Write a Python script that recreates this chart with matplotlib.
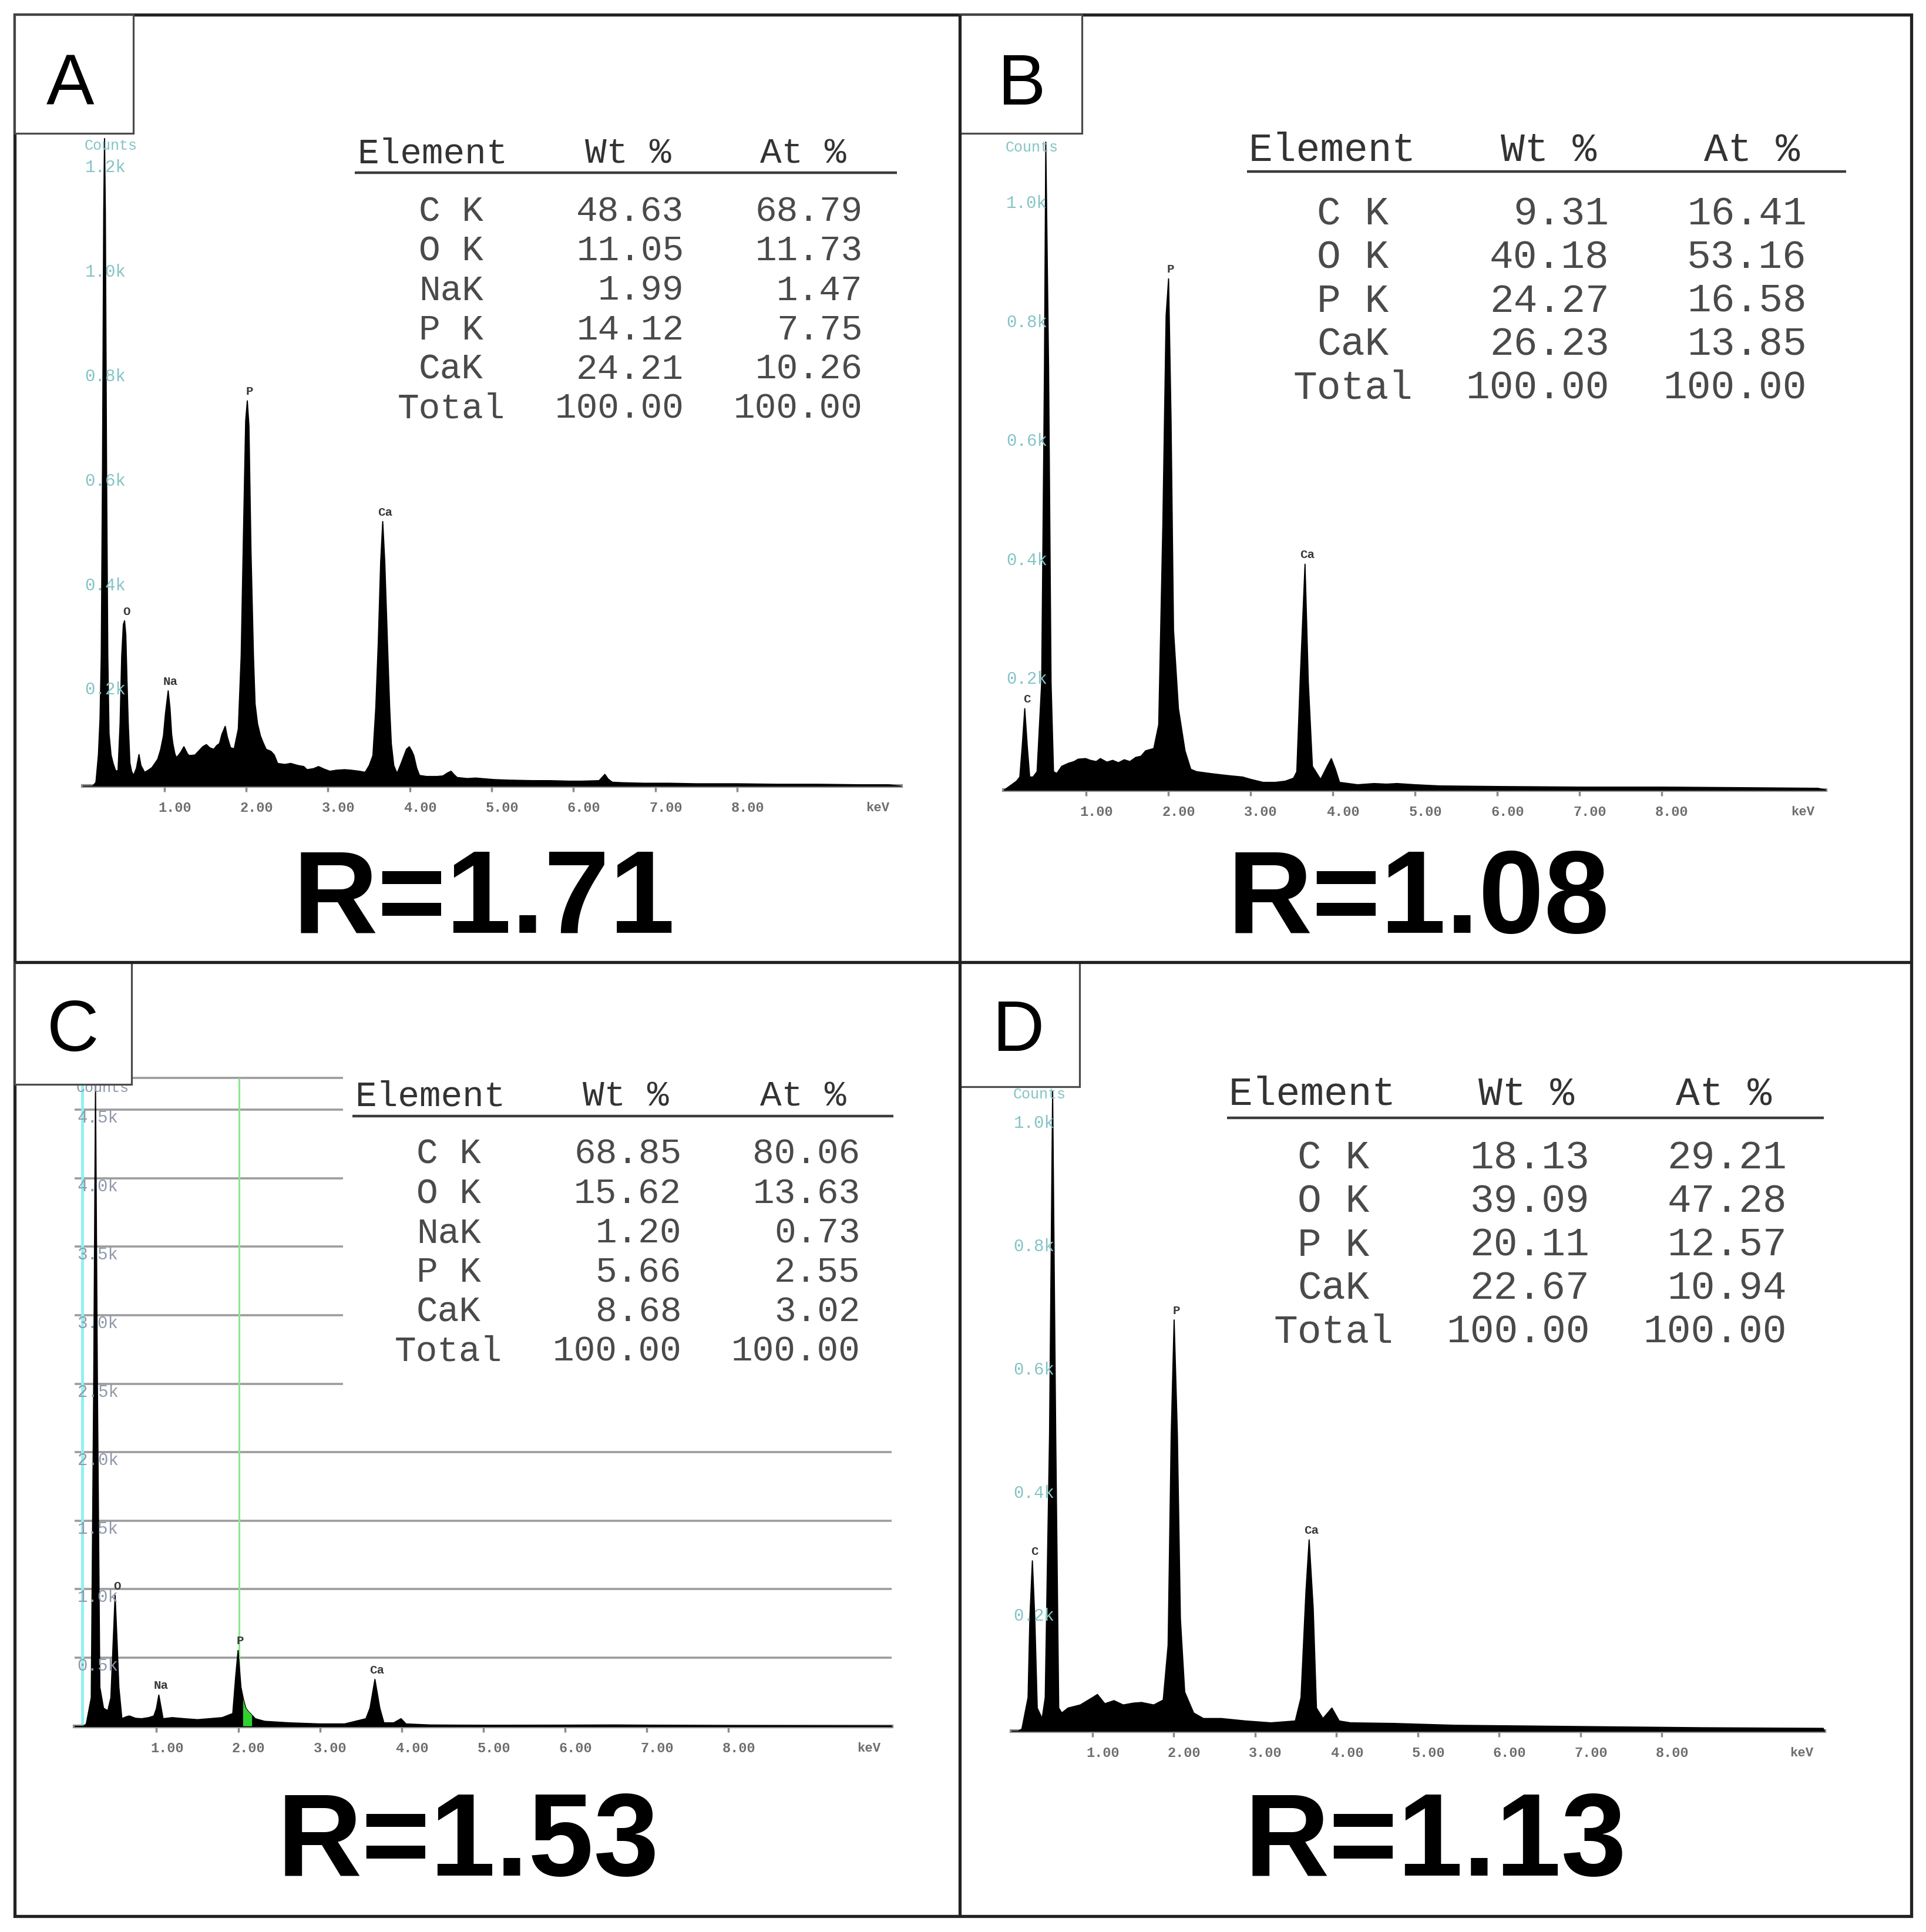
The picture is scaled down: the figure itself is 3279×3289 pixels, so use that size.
import matplotlib
matplotlib.use('Agg')
import matplotlib.pyplot as plt
from matplotlib.patches import Rectangle

# layout is measured on the reduced reference (1563 x 1568) and scaled up
W, H = 1563, 1568
MONO = ['Liberation Mono', 'DejaVu Sans Mono']
SANS = ['Liberation Sans', 'DejaVu Sans']

# ---------------- spectrum A ----------------
kev_a = [0.00, 0.12, 0.16, 0.19, 0.21, 0.225, 0.24, 0.255, 0.265, 0.275, 0.29, 0.305, 0.32, 0.345,
         0.37, 0.40, 0.43, 0.455, 0.475, 0.495, 0.51, 0.525, 0.54, 0.555, 0.575, 0.595, 0.62, 0.655,
         0.686, 0.71, 0.755, 0.79, 0.845, 0.915, 0.95, 0.985, 1.01, 1.043, 1.065, 1.085, 1.10, 1.125,
         1.145, 1.195, 1.235, 1.28, 1.30, 1.37, 1.43, 1.465, 1.51, 1.55, 1.60, 1.635, 1.67, 1.70,
         1.74, 1.765, 1.805, 1.85, 1.90, 1.935, 1.965, 1.99, 2.01, 2.03, 2.055, 2.085, 2.105, 2.135,
         2.17, 2.20, 2.24, 2.30, 2.34, 2.38, 2.47, 2.54, 2.63, 2.70, 2.74, 2.82, 2.88, 2.95, 3.02,
         3.10, 3.20, 3.28, 3.38, 3.45, 3.50, 3.545, 3.58, 3.61, 3.64, 3.665, 3.69, 3.725, 3.75, 3.77,
         3.80, 3.84, 3.88, 3.955, 3.99, 4.02, 4.045, 4.08, 4.115, 4.20, 4.33, 4.40, 4.46, 4.50, 4.54,
         4.575, 4.70, 4.80, 4.95, 5.03, 5.20, 5.49, 5.70, 5.95, 6.10, 6.31, 6.38, 6.42, 6.47, 6.60,
         6.86, 7.17, 7.50, 8.00, 8.50, 9.00, 9.50, 9.85, 10.0]
cts_a = [0, 0, 8, 60, 130, 250, 600, 1100, 1240, 1100, 600, 250, 101, 60,
         44, 30, 30, 120, 250, 310, 317, 290, 200, 120, 45, 29, 21, 35,
         61, 40, 27, 30, 36, 52, 70, 97, 140, 183, 150, 100, 82, 62,
         55, 65, 76, 62, 59, 60, 70, 76, 80, 74, 71, 78, 82, 100,
         115, 95, 74, 72, 110, 250, 500, 700, 738, 690, 450, 250, 158, 120,
         97, 85, 71, 67, 60, 44, 42, 44, 40, 38, 32, 34, 38, 33, 29,
         31, 32, 31, 29, 27, 40, 59, 150, 273, 430, 507, 430, 265, 150, 82,
         40, 25, 40, 71, 76, 68, 59, 35, 21, 19, 19, 20, 26, 29, 22,
         17, 15, 16, 14, 13, 12, 11, 11, 10, 10, 11, 23, 14, 8, 7,
         6, 6, 5, 5, 4, 4, 3, 3, 0]
yt_a = [200, 400, 600, 800, 1000, 1200]
yl_a = ['0.2k', '0.4k', '0.6k', '0.8k', '1.0k', '1.2k']
pk_name_a = ['O', 'Na', 'P', 'Ca']
pk_kev_a = [0.51, 1.043, 2.01, 3.665]
pk_cts_a = [317, 183, 738, 507]

# ---------------- spectrum B ----------------
kev_b = [0.00, 0.05, 0.15, 0.19, 0.22, 0.25, 0.28, 0.31, 0.35, 0.40, 0.456, 0.49, 0.506, 0.54,
         0.57, 0.60, 0.64, 0.70, 0.78, 0.85, 0.90, 0.99, 1.05, 1.12, 1.17, 1.25, 1.32, 1.39,
         1.46, 1.53, 1.60, 1.665, 1.72, 1.82, 1.88, 1.93, 1.97, 2.00, 2.03, 2.06, 2.12, 2.20,
         2.27, 2.34, 2.50, 2.62, 2.75, 2.90, 3.00, 3.15, 3.30, 3.42, 3.52, 3.56, 3.60, 3.66,
         3.70, 3.75, 3.85, 3.93, 3.98, 4.03, 4.08, 4.30, 4.50, 4.65, 4.78, 5.00, 5.30, 6.00,
         7.00, 8.00, 9.00, 9.90, 10.0]
cts_b = [0, 5, 15, 22, 75, 137, 75, 22, 22, 31, 181, 710, 1090, 710,
         181, 31, 28, 40, 45, 48, 52, 53, 50, 48, 53, 47, 50, 46,
         51, 48, 55, 57, 66, 70, 110, 445, 798, 860, 622, 269, 137, 66,
         35, 31, 28, 26, 24, 22, 18, 13, 13, 15, 20, 31, 181, 380,
         181, 40, 18, 40, 53, 35, 13, 9, 11, 10, 11, 9, 7, 6,
         5, 5, 4, 3, 0]
yt_b = [200, 400, 600, 800, 1000]
yl_b = ['0.2k', '0.4k', '0.6k', '0.8k', '1.0k']
pk_name_b = ['C', 'P', 'Ca']
pk_kev_b = [0.25, 2.00, 3.66]
pk_cts_b = [137, 860, 380]

# ---------------- spectrum C ----------------
kev_c = [0.00, 0.10, 0.137, 0.198, 0.228, 0.25, 0.273, 0.303, 0.348, 0.40, 0.438, 0.465, 0.49,
         0.515, 0.536, 0.573, 0.62, 0.664, 0.74, 0.814, 0.90, 0.964, 0.995, 1.025, 1.055, 1.077,
         1.19, 1.34, 1.50, 1.64, 1.80, 1.93, 1.965, 1.995, 2.03, 2.06, 2.09, 2.12, 2.17, 2.205,
         2.32, 2.62, 2.99, 3.30, 3.56, 3.61, 3.67, 3.73, 3.78, 3.90, 3.99, 4.05, 4.35, 5.10,
         6.60, 8.00, 9.99, 10.0]
cts_c = [0, 0, 19, 210, 2500, 4680, 2500, 287, 134, 115, 210, 600, 957,
         600, 287, 57, 70, 77, 60, 57, 65, 77, 130, 230, 130, 57,
         65, 57, 50, 57, 65, 95, 360, 555, 287, 200, 134, 110, 80, 57,
         38, 27, 19, 19, 57, 134, 344, 134, 27, 27, 57, 19, 11, 8,
         11, 6, 4, 0]
yt_c = [500, 1000, 1500, 2000, 2500, 3000, 3500, 4000, 4500]
yl_c = ['0.5k', '1.0k', '1.5k', '2.0k', '2.5k', '3.0k', '3.5k', '4.0k', '4.5k']
grid_long_c = [500, 1000, 1500, 2000]
grid_short_c = [2500, 3000, 3500, 4000, 4500, 4730]
pk_name_c = ['O', 'Na', 'P', 'Ca']
pk_kev_c = [0.49, 1.025, 1.995, 3.67]
pk_cts_c = [957, 230, 555, 344]

# ---------------- spectrum D ----------------
kev_d = [0.00, 0.08, 0.128, 0.204, 0.226, 0.257, 0.287, 0.317, 0.377, 0.415, 0.468, 0.506, 0.544,
         0.581, 0.619, 0.695, 0.846, 0.997, 1.057, 1.148, 1.26, 1.374, 1.50, 1.60, 1.75, 1.866,
         1.926, 1.964, 2.00, 2.04, 2.077, 2.13, 2.24, 2.36, 2.58, 2.88, 3.19, 3.49, 3.56, 3.62,
         3.66, 3.71, 3.75, 3.83, 3.94, 4.03, 4.17, 4.70, 5.45, 6.96, 8.50, 9.98, 10.0]
cts_d = [0, 0, 4, 55, 183, 277, 183, 38, 21, 55, 480, 1040, 480,
         38, 30, 38, 43, 55, 60, 45, 50, 43, 46, 47, 43, 51,
         140, 481, 668, 481, 183, 64, 30, 21, 21, 17, 14, 17, 55, 225,
         311, 200, 38, 21, 38, 17, 14, 13, 10, 8, 6, 5, 0]
yt_d = [200, 400, 600, 800, 1000]
yl_d = ['0.2k', '0.4k', '0.6k', '0.8k', '1.0k']
pk_name_d = ['C', 'P', 'Ca']
pk_kev_d = [0.257, 2.00, 3.66]
pk_cts_d = [277, 668, 311]

# ---------------- quantification tables ----------------
el_a = ['C K', 'O K', 'NaK', 'P K', 'CaK', 'Total']
wt_a = [48.63, 11.05, 1.99, 14.12, 24.21, 100.00]
at_a = [68.79, 11.73, 1.47, 7.75, 10.26, 100.00]

el_b = ['C K', 'O K', 'P K', 'CaK', 'Total']
wt_b = [9.31, 40.18, 24.27, 26.23, 100.00]
at_b = [16.41, 53.16, 16.58, 13.85, 100.00]

el_c = ['C K', 'O K', 'NaK', 'P K', 'CaK', 'Total']
wt_c = [68.85, 15.62, 1.20, 5.66, 8.68, 100.00]
at_c = [80.06, 13.63, 0.73, 2.55, 3.02, 100.00]

el_d = ['C K', 'O K', 'P K', 'CaK', 'Total']
wt_d = [18.13, 39.09, 20.11, 22.67, 100.00]
at_d = [29.21, 47.28, 12.57, 10.94, 100.00]

panels = ['A', 'B', 'C', 'D']
ratios = [1.71, 1.08, 1.53, 1.13]


fig = plt.figure(figsize=(32.79, 32.89), dpi=100)
fig.patch.set_facecolor('white')


def spectrum_ax(x0, px_kev, ybase, px_k, ymax):
    ax = fig.add_axes([x0 / W, 1 - ybase / H, 10 * px_kev / W, ymax / 1000 * px_k / H])
    ax.set_xlim(0, 10)
    ax.set_ylim(0, ymax)
    ax.patch.set_alpha(0)
    for s in ['top', 'right', 'left']:
        ax.spines[s].set_visible(False)
    ax.spines['bottom'].set_color('#8c8c8c')
    ax.spines['bottom'].set_linewidth(4.5)
    ax.set_xticks(range(1, 9))
    ax.set_xticklabels([])
    ax.tick_params(axis='x', direction='out', length=7, width=2.5, color='#8c8c8c')
    ax.set_yticks([])
    return ax


def draw_spectrum(ax, kev, cts, yt, yl, lbl_col, counts_y, names, pk_kev, pk_cts):
    ax.fill_between(kev, cts, 0, facecolor='black', edgecolor='black', lw=1.4, zorder=3)
    for k in range(1, 9):
        ax.annotate(f'{k:.2f}', (k, 0), xytext=(12.8, -27), textcoords='offset points',
                    ha='center', va='center', fontsize=17, family=MONO, weight='bold',
                    color='#6e6e6e', annotation_clip=False)
    ax.annotate('keV', (9.72, 0), xytext=(0, -27), textcoords='offset points',
                ha='center', va='center', fontsize=16, family=MONO, weight='bold',
                color='#6e6e6e', annotation_clip=False)
    for t, l in zip(yt, yl):
        ax.text(0.03, t, l, ha='left', va='top', fontsize=21, family=MONO,
                color=lbl_col, zorder=4)
    ax.text(0.02, counts_y, 'Counts', ha='left', va='center', fontsize=18, family=MONO,
            color=lbl_col, zorder=4)
    for n, e, c in zip(names, pk_kev, pk_cts):
        ax.annotate(n, (e, c), xytext=(3, 11), textcoords='offset points', ha='center',
                    va='center', fontsize=15, family=MONO, weight='bold', color='#3a3a3a',
                    annotation_clip=False)


teal = '#84c4c6'

ax_a = spectrum_ax(67.0, 66.4, 638, 424, 1300)
draw_spectrum(ax_a, kev_a, cts_a, yt_a, yl_a, teal, 1226, pk_name_a, pk_kev_a, pk_cts_a)

ax_b = spectrum_ax(814.7, 66.7, 641, 482.5, 1150)
draw_spectrum(ax_b, kev_b, cts_b, yt_b, yl_b, teal, 1080, pk_name_b, pk_kev_b, pk_cts_b)

ax_c = spectrum_ax(60.7, 66.3, 1401, 111.2, 4800)
ax_c.hlines(grid_long_c, 0, 10, color='#9c9c9c', lw=2.6, zorder=1)
ax_c.hlines(grid_short_c, 0, 3.28, color='#9c9c9c', lw=2.6, zorder=1)
ax_c.vlines(0.09, 0, 4730, color='#8ff0f4', lw=3.5, zorder=2)
ax_c.vlines(2.01, 0, 4730, color='#8ee68e', lw=2.2, zorder=2)
draw_spectrum(ax_c, kev_c, cts_c, yt_c, yl_c, '#8f98aa', 4660, pk_name_c, pk_kev_c, pk_cts_c)
roi = [2.06 <= k <= 2.17 for k in kev_c]
ax_c.fill_between(kev_c, cts_c, 0, where=roi, facecolor='#2fd02f', edgecolor='none', zorder=3.5)

ax_d = spectrum_ax(820.6, 66.0, 1405, 500, 1100)
draw_spectrum(ax_d, kev_d, cts_d, yt_d, yl_d, teal, 1034, pk_name_d, pk_kev_d, pk_cts_d)

# ---------------- frame, labels, tables ----------------
ov = fig.add_axes([0, 0, 1, 1], zorder=10)
ov.set_xlim(0, W)
ov.set_ylim(H, 0)
ov.axis('off')
ov.patch.set_alpha(0)

frame_col = '#222222'
ov.add_patch(Rectangle((12, 12), 1539, 1543, fill=False, ec=frame_col, lw=3.8))
ov.plot([779, 779], [12, 1555], color=frame_col, lw=3.8, solid_capstyle='butt')
ov.plot([12, 1551], [781, 781], color=frame_col, lw=3.8, solid_capstyle='butt')

boxes = [(12, 12, 96, 96), (779, 12, 99, 96), (12, 781, 95, 99), (779, 781, 97, 101)]
letter_xy = [(57, 85), (829.5, 85), (59, 853), (826.5, 853)]
for (bx, by, bw, bh), (lx, ly), p in zip(boxes, letter_xy, panels):
    ov.add_patch(Rectangle((bx, by), bw, bh, fc='white', ec='#4a4a4a', lw=2.3))
    ov.text(lx, ly, p, ha='center', va='baseline', fontsize=88, family=SANS, color='black')

r_xy = [(393, 757), (1151, 757), (380, 1522), (1165, 1522)]
for (rx, ry), r in zip(r_xy, ratios):
    ov.text(rx, ry, f'R={r:.2f}', ha='center', va='baseline', fontsize=144,
            family=SANS, weight='bold', color='black')


def draw_table(names, wt, at, hdr_y, elem_x, wt_hx, at_hx, line_y, lx0, lx1,
               row_y0, dy, name_cx, wt_rx, at_rx, fs):
    kw = dict(va='center', fontsize=fs, family=MONO)
    ov.text(elem_x, hdr_y, 'Element', ha='left', color='#333333', **kw)
    ov.text(wt_hx, hdr_y, 'Wt %', ha='left', color='#333333', **kw)
    ov.text(at_hx, hdr_y, 'At %', ha='left', color='#333333', **kw)
    ov.plot([lx0, lx1], [line_y, line_y], color='#3c3c3c', lw=3.2, solid_capstyle='butt')
    for i, (n, w, a) in enumerate(zip(names, wt, at)):
        y = row_y0 + i * dy
        ov.text(name_cx, y, n, ha='center', color='#4a4a4a', **kw)
        ov.text(wt_rx, y, f'{w:.2f}', ha='right', color='#4a4a4a', **kw)
        ov.text(at_rx, y, f'{a:.2f}', ha='right', color='#4a4a4a', **kw)


draw_table(el_a, wt_a, at_a, 125, 290, 475, 617, 140, 288, 728, 172, 32, 366, 555, 700, 44)
draw_table(el_b, wt_b, at_b, 122, 1013, 1218, 1383, 139, 1012, 1498, 174, 35.25, 1098, 1306, 1466, 49)
draw_table(el_c, wt_c, at_c, 890, 288, 473, 617, 906, 286, 725, 937, 32, 364, 553, 698, 44)
draw_table(el_d, wt_d, at_d, 888, 997, 1200, 1360, 907, 996, 1480, 940, 35.25, 1082, 1290, 1450, 49)

fig.savefig('out.png', dpi=100, facecolor='white')
